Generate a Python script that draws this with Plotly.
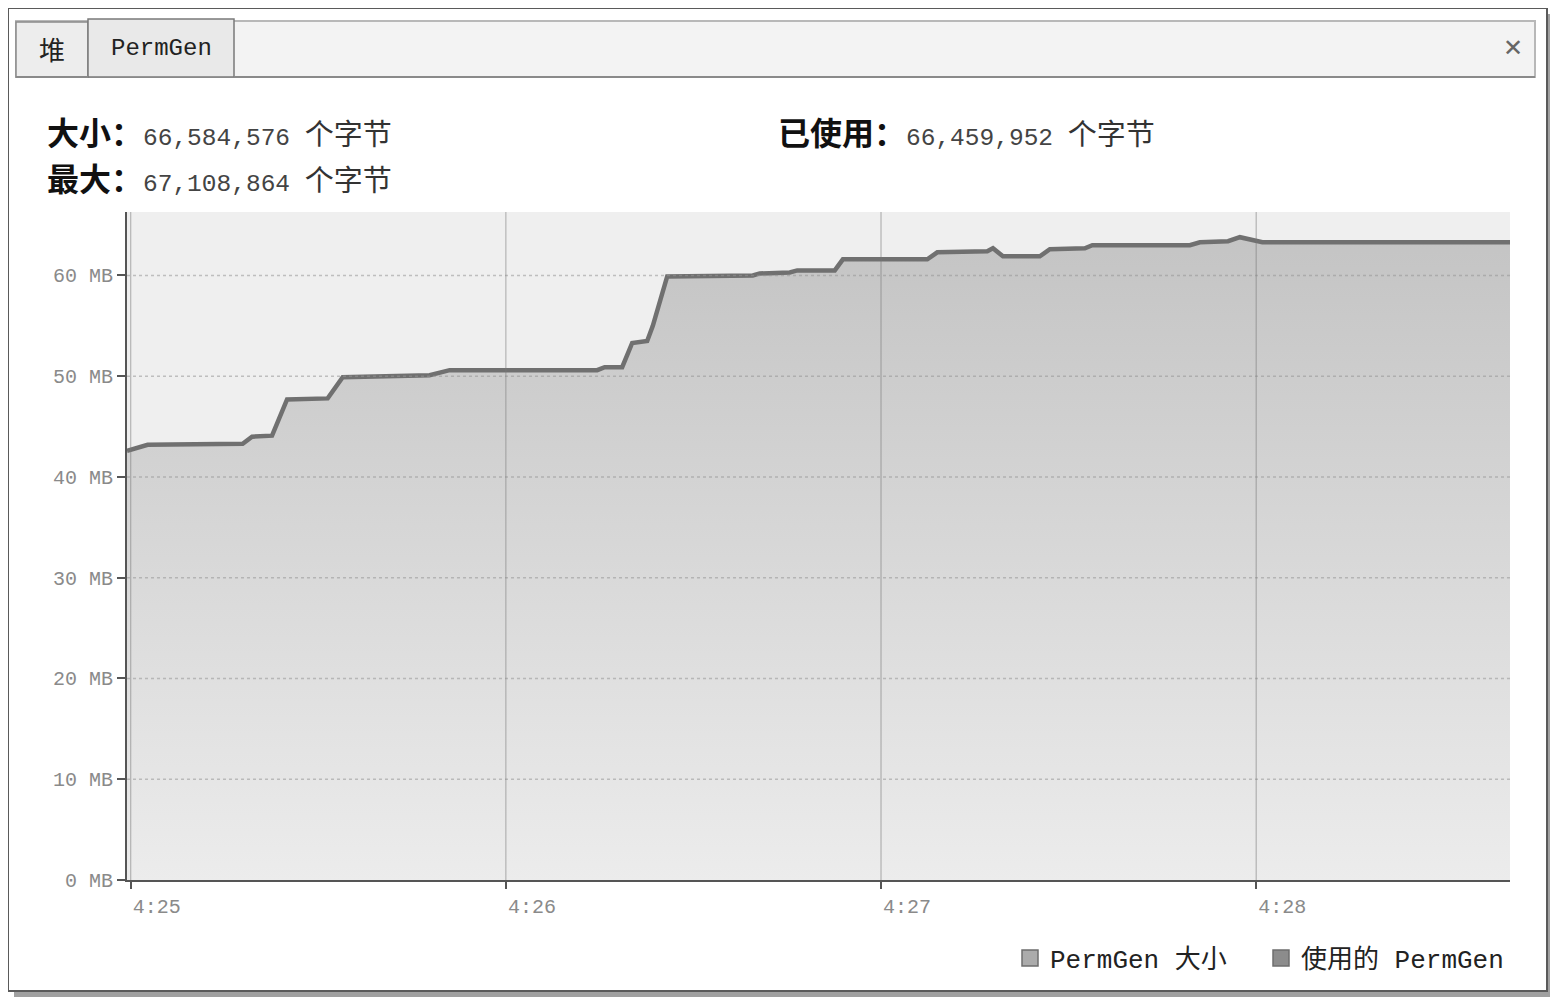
import plotly.graph_objects as go
import pandas as pd

# ---- data ----
time_labels = ["04:24:59.4", "04:25:02.7", "04:25:17.9", "04:25:19.4", "04:25:22.6",
               "04:25:25.0", "04:25:31.5", "04:25:33.9", "04:25:47.8", "04:25:51.0",
               "04:26:14.6", "04:26:15.8", "04:26:18.6", "04:26:20.2", "04:26:22.6",
               "04:26:23.5", "04:26:25.8", "04:26:39.5", "04:26:40.6", "04:26:45.4",
               "04:26:46.6", "04:26:52.6", "04:26:53.9", "04:27:07.4", "04:27:09.0",
               "04:27:17.0", "04:27:17.9", "04:27:19.5", "04:27:25.4", "04:27:27.0",
               "04:27:32.6", "04:27:33.8", "04:27:49.4", "04:27:51.0", "04:27:55.5",
               "04:27:57.4", "04:28:01.0", "04:28:40.6"]
used_mb = [42.6, 43.2, 43.3, 44.0, 44.1,
           47.7, 47.8, 49.9, 50.1, 50.6,
           50.6, 50.9, 50.9, 53.3, 53.5,
           55.0, 59.9, 60.0, 60.2, 60.3,
           60.5, 60.5, 61.6, 61.6, 62.3,
           62.4, 62.7, 61.9, 61.9, 62.6,
           62.7, 63.0, 63.0, 63.3, 63.4,
           63.8, 63.3, 63.3]
x_ticks = ["04:25:00", "04:26:00", "04:27:00", "04:28:00"]
y_ticks = [0, 10, 20, 30, 40, 50, 60]
y_tick_labels = ["0 MB", "10 MB", "20 MB", "30 MB", "40 MB", "50 MB", "60 MB"]
legend_names = ["PermGen 大小", "使用的 PermGen"]
header_size = "66,584,576"
header_max = "67,108,864"
header_used = "66,459,952"
tab_names = ["堆", "PermGen"]

DAY = "2013-05-01 "
t = pd.to_datetime([DAY + s for s in time_labels])
ticks = pd.to_datetime([DAY + s for s in x_ticks])

OFF = 8  # page body margin
W, H = 1550, 994
L, T = 127 - OFF, 212 - OFF
PW, PH = 1383, 668
R = W - L - PW
B = H - T - PH


def px(x):  # reference pixel -> paper x
    return (x - OFF - L) / PW


def py(y):  # reference pixel -> paper y
    return (H - B - (y - OFF)) / PH


MONO = "Liberation Mono, Noto Sans CJK SC, monospace"
CJK = "Noto Sans CJK SC, sans-serif"

fig = go.Figure()
fig.add_trace(go.Scatter(
    x=t, y=used_mb, mode="lines", fill="tozeroy",
    line=dict(color="#707070", width=4.5, shape="linear"),
    fillgradient=dict(type="vertical", start=0, stop=64,
                      colorscale=[[0, "#ececec"], [1, "#c4c4c4"]]),
    showlegend=False, hoverinfo="x+y",
))
legend_fill = ["#ababab", "#8c8c8c"]
for name, col in zip(legend_names, legend_fill):
    fig.add_trace(go.Scatter(
        x=[None], y=[None], mode="markers", name=name,
        marker=dict(symbol="square", size=20, color=col,
                    line=dict(color="#6e6e6e", width=1.5)),
    ))

shapes = []
# gridlines drawn above the filled area
for yv in y_ticks[1:]:
    shapes.append(dict(type="line", xref="paper", yref="y", x0=0, x1=1, y0=yv, y1=yv,
                       line=dict(color="rgba(150,150,150,0.55)", width=1.5, dash="dot"),
                       layer="above"))
for xv in ticks:
    shapes.append(dict(type="line", xref="x", yref="paper", x0=xv, x1=xv, y0=0, y1=1,
                       line=dict(color="rgba(120,120,120,0.6)", width=1), layer="above"))
# outer frame shadow + frame
shapes.append(dict(type="rect", xref="paper", yref="paper",
                   x0=px(1547), x1=px(1553), y0=py(14), y1=py(997),
                   fillcolor="#a0a0a0", line=dict(width=0), layer="below"))
shapes.append(dict(type="rect", xref="paper", yref="paper",
                   x0=px(14), x1=px(1553), y0=py(991), y1=py(997),
                   fillcolor="#a0a0a0", line=dict(width=0), layer="below"))
shapes.append(dict(type="rect", xref="paper", yref="paper",
                   x0=px(8), x1=px(1547), y0=py(8), y1=py(991),
                   fillcolor="rgba(0,0,0,0)", line=dict(color="#5a5a5a", width=2), layer="below"))
# tab bar
shapes.append(dict(type="rect", xref="paper", yref="paper",
                   x0=px(16), x1=px(1535), y0=py(21), y1=py(77),
                   fillcolor="#f3f3f3", line=dict(color="#b8b8b8", width=2), layer="below"))
shapes.append(dict(type="rect", xref="paper", yref="paper",
                   x0=px(16), x1=px(88), y0=py(22), y1=py(77),
                   fillcolor="#ededed", line=dict(color="#8a8a8a", width=1.5), layer="below"))
shapes.append(dict(type="rect", xref="paper", yref="paper",
                   x0=px(88), x1=px(234), y0=py(19), y1=py(77),
                   fillcolor="#e9e9e9", line=dict(color="#7a7a7a", width=1.5), layer="below"))
shapes.append(dict(type="line", xref="paper", yref="paper",
                   x0=px(234), x1=px(1535), y0=py(77), y1=py(77),
                   line=dict(color="#8a8a8a", width=2), layer="below"))
shapes.append(dict(type="line", xref="paper", yref="paper",
                   x0=px(16), x1=px(88), y0=py(77), y1=py(77),
                   line=dict(color="#8a8a8a", width=2), layer="below"))

ann = []
ann.append(dict(text=tab_names[0], x=px(52), y=py(49), xref="paper", yref="paper",
                showarrow=False, xanchor="center", yanchor="middle",
                font=dict(family=CJK, size=26, color="#222")))
ann.append(dict(text=tab_names[1], x=px(161), y=py(49), xref="paper", yref="paper",
                showarrow=False, xanchor="center", yanchor="middle",
                font=dict(family=MONO, size=24, color="#222")))
ann.append(dict(text="✕", x=px(1513), y=py(48), xref="paper", yref="paper",
                showarrow=False, xanchor="center", yanchor="middle",
                font=dict(family="DejaVu Sans", size=24, color="#666")))


def header(label, value, x, y):
    txt = (f"<b><span style='font-size:32px'>{label}</span></b>"
           f"<span style='font-family:Liberation Mono;font-size:24.5px;color:#444'>{value} </span>"
           f"<span style='color:#333'>个字节</span>")
    return dict(text=txt, x=px(x), y=py(y), xref="paper", yref="paper",
                showarrow=False, xanchor="left", yanchor="middle",
                font=dict(family=CJK, size=29, color="#111"))


ann.append(header("大小：", header_size, 45, 131))
ann.append(header("最大：", header_max, 45, 177))
ann.append(header("已使用：", header_used, 776, 131))

fig.update_layout(
    width=W, height=H,
    margin=dict(l=L, r=R, t=T, b=B, pad=0),
    paper_bgcolor="white",
    plot_bgcolor="#efefef",
    shapes=shapes,
    annotations=ann,
    showlegend=True,
    legend=dict(orientation="h", x=px(1512), y=py(958), xanchor="right", yanchor="middle",
                bgcolor="rgba(0,0,0,0)", font=dict(family=MONO, size=26, color="#222"),
                itemsizing="trace", itemwidth=30, tracegroupgap=0,
                entrywidth=206, entrywidthmode="pixels"),
    xaxis=dict(
        type="date",
        range=[pd.Timestamp(DAY + "04:24:59.4"), pd.Timestamp(DAY + "04:28:40.6")],
        tickvals=ticks, tickformat="%-H:%M",
        showgrid=False,
        showline=True, linecolor="#555", linewidth=2,
        ticks="outside", ticklen=7, tickcolor="#555", tickwidth=2,
        tickfont=dict(family=MONO, size=20, color="#8a8a8a"),
        ticklabelshift=26, ticklabelstandoff=0,
        zeroline=False, fixedrange=True,
    ),
    yaxis=dict(
        range=[0, 66.3], tickvals=y_ticks, ticktext=y_tick_labels,
        showgrid=False,
        showline=True, linecolor="#555", linewidth=2,
        ticks="outside", ticklen=8, tickcolor="#555", tickwidth=2,
        tickfont=dict(family=MONO, size=20, color="#8a8a8a"),
        zeroline=False, fixedrange=True,
    ),
)

fig.write_html("out.html")
